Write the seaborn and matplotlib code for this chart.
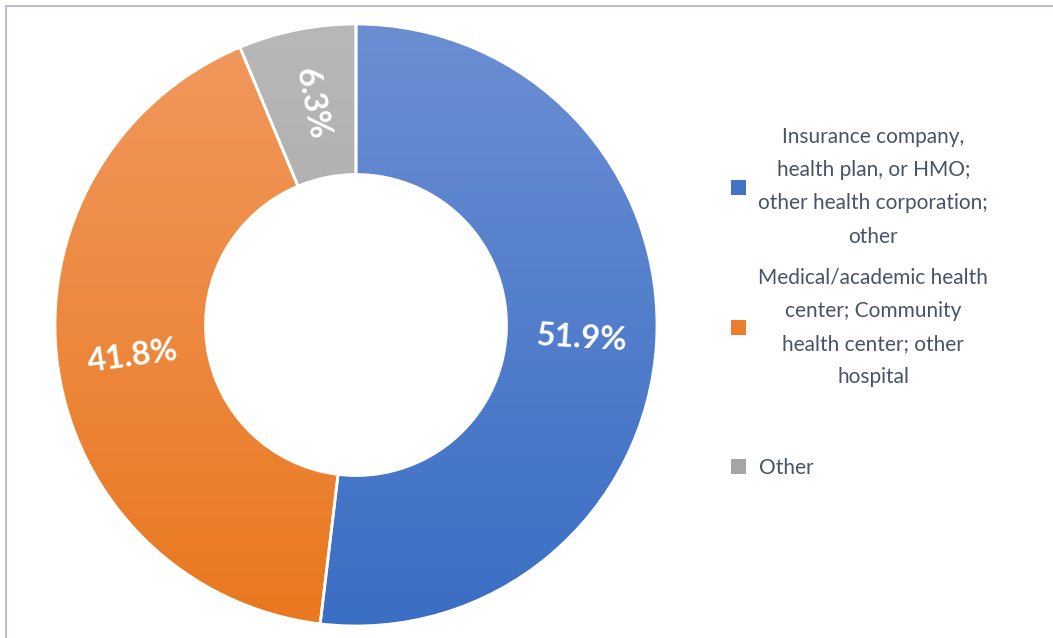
import numpy as np
import matplotlib
matplotlib.use("Agg")
import matplotlib.pyplot as plt
from matplotlib.colors import LinearSegmentedColormap
from matplotlib.patches import Rectangle
import seaborn as sns

# Employer type shares (%)
categories = [
    "Insurance company,\nhealth plan, or HMO;\nother health corporation;\nother",
    "Medical/academic health\ncenter; Community\nhealth center; other\nhospital",
    "Other",
]
shares = [51.9, 41.8, 6.3]

sns.set_theme(style="white")
plt.rcParams["font.family"] = ["Lato", "DejaVu Sans"]

base = sns.color_palette(["#4472C4", "#ED7D31", "#A5A5A5"])
# light (top) -> dark (bottom) shading for each ring segment
shade = [("#6B8ED3", "#3A6EC3"), ("#F1995E", "#E9781F"), ("#B8B8B8", "#A0A0A0")]
text_color = "#48536A"

fig = plt.figure(figsize=(10.53, 6.38), dpi=100)
W, H = 1053, 638
cx, cy, R = 356, 325, 301
ax = fig.add_axes([(cx - R) / W, (H - cy - R) / H, 2 * R / W, 2 * R / H])

wedges, _, autotexts = ax.pie(
    shares, colors=base, startangle=90, counterclock=False, radius=1.0,
    autopct="%.1f%%", pctdistance=0.75,
    wedgeprops=dict(width=0.5, linewidth=0),
    textprops=dict(color="white", fontsize=23.5, fontweight="bold"),
)

grad = np.linspace(0, 1, 256).reshape(-1, 1)
for w, (top, bot) in zip(wedges, shade):
    cmap = LinearSegmentedColormap.from_list("seg", [top, bot])
    im = ax.imshow(grad, extent=[-1, 1, -1, 1], origin="upper", cmap=cmap,
                   aspect="auto", zorder=2, interpolation="bilinear")
    im.set_clip_path(w)

# white separators between segments
ax.pie(shares, colors=["none"] * 3, startangle=90, counterclock=False, radius=1.0,
       wedgeprops=dict(width=0.5, edgecolor="white", linewidth=2, zorder=3))

for w, t in zip(wedges, autotexts):
    mid = (w.theta1 + w.theta2) / 2.0
    rot = ((mid + 90) % 180) - 90
    t.set_rotation(rot)
    t.set_rotation_mode("anchor")
    t.set_ha("center")
    t.set_va("center")
    t.set_zorder(5)

ax.set_xlim(-1, 1)
ax.set_ylim(-1, 1)
ax.set_aspect("equal")
ax.axis("off")

fs = 15
leg_kw = dict(frameon=False, fontsize=fs, handlelength=0.72, handleheight=0.72,
              handletextpad=0.6, borderpad=0, borderaxespad=0,
              bbox_transform=fig.transFigure, labelcolor=text_color)
leg1 = ax.legend(wedges[:2], categories[:2], loc="center left",
                 bbox_to_anchor=(731 / W, 1 - 257 / H), labelspacing=1.0, **leg_kw)
for t in leg1.get_texts():
    t.set_multialignment("center")
    t.set_linespacing(1.82)
ax.add_artist(leg1)
leg2 = ax.legend(wedges[2:], categories[2:], loc="center left",
                 bbox_to_anchor=(731 / W, 1 - 468 / H), **leg_kw)

# thin frame around the chart area
fig.patches.append(Rectangle((6 / W, -0.2), 2, 1.2 - 6 / H, transform=fig.transFigure,
                             fill=False, edgecolor="#BDBDCC", linewidth=1.5))

fig.savefig("out.png", dpi=100)
